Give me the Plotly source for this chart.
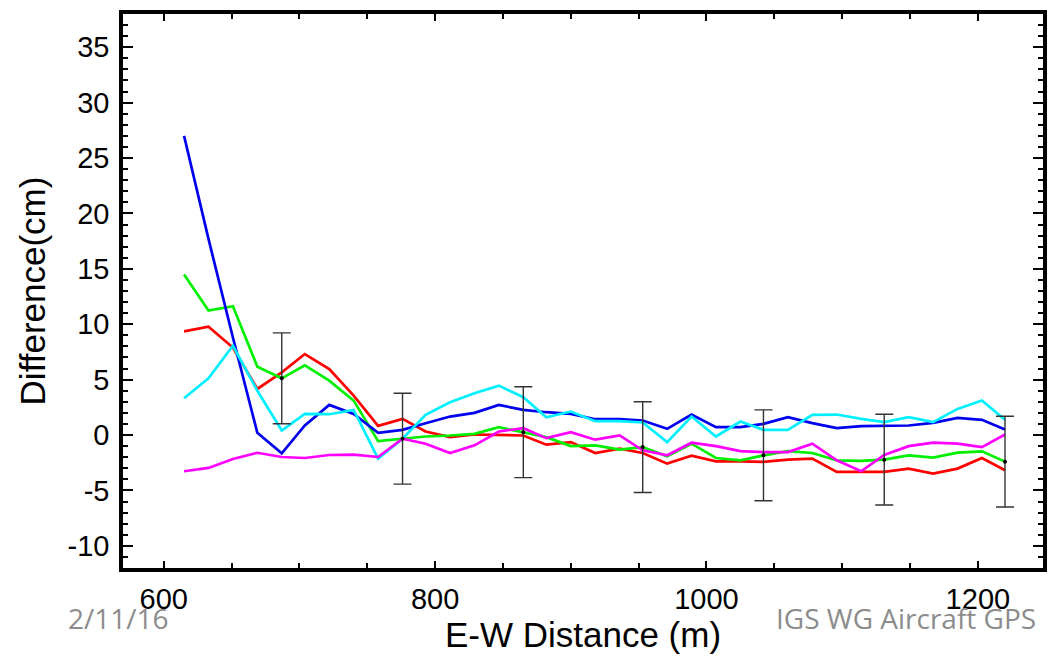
import plotly.graph_objects as go

distance = [615, 633, 651, 669, 687, 704, 722, 740, 758, 776, 793, 811, 829, 847, 865,
            882, 900, 918, 936, 953, 971, 989, 1007, 1025, 1042, 1060, 1078, 1096, 1114,
            1131, 1149, 1167, 1185, 1203, 1220]

red = [9.35, 9.77, 7.9, 4.16, 5.66, 7.31, 5.96, 3.56, 0.83, 1.46, 0.32, -0.19, 0.05, 0.03, -0.04,
       -0.87, -0.64, -1.62, -1.23, -1.62, -2.58, -1.86, -2.37, -2.37, -2.43, -2.22, -2.13, -3.33,
       -3.33, -3.33, -3.03, -3.48, -3.03, -2.07, -3.18]
green = [14.5, 11.23, 11.63, 6.17, 5.12, 6.29, 4.91, 3.11, -0.55, -0.33, -0.13, -0.04, 0.11, 0.71,
         0.26, -0.19, -1.0, -0.93, -1.32, -1.09, -1.92, -0.78, -2.07, -2.28, -1.83, -1.45, -1.62,
         -2.28, -2.34, -2.22, -1.83, -2.04, -1.59, -1.47, -2.4]
blue = [27.0, 17.7, 8.8, 0.2, -1.65, 0.86, 2.72, 1.91, 0.2, 0.47, 1.07, 1.67, 2.0, 2.72, 2.27,
        2.06, 1.91, 1.43, 1.43, 1.31, 0.56, 1.85, 0.71, 0.71, 1.01, 1.61, 1.07, 0.62, 0.8, 0.8,
        0.86, 1.1, 1.55, 1.37, 0.5]
cyan = [3.32, 5.12, 8.06, 4.0, 0.41, 1.91, 1.88, 2.27, -2.13, -0.33, 1.82, 2.96, 3.77, 4.46, 3.41,
        1.61, 2.12, 1.25, 1.25, 1.13, -0.64, 1.67, -0.13, 1.22, 0.47, 0.47, 1.82, 1.85, 1.46, 1.16,
        1.61, 1.16, 2.36, 3.11, 1.37]
magenta = [-3.27, -2.97, -2.16, -1.6, -1.98, -2.07, -1.8, -1.77, -1.98, -0.33, -0.78, -1.62, -0.93,
           0.32, 0.62, -0.28, 0.26, -0.42, -0.04, -1.38, -1.83, -0.69, -1.0, -1.45, -1.54, -1.54,
           -0.78, -2.28, -3.27, -1.8, -1.0, -0.69, -0.78, -1.09, 0.05]

err_x = [687, 776, 865, 953, 1042, 1131, 1220]
err_y = [5.12, -0.33, 0.26, -1.09, -1.83, -2.22, -2.4]
err_size = [4.1, 4.1, 4.1, 4.1, 4.1, 4.1, 4.1]

x_ticks = [600, 800, 1000, 1200]
y_ticks = [-10, -5, 0, 5, 10, 15, 20, 25, 30, 35]

series = [("red", red, "#ff0000"), ("green", green, "#00f000"), ("blue", blue, "#0000ee"),
          ("cyan", cyan, "#00f0ff"), ("magenta", magenta, "#ff00ff")]

fig = go.Figure()
for name, vals, col in series:
    fig.add_trace(go.Scatter(x=distance, y=vals, mode="lines", name=name,
                             line=dict(color=col, width=2.7)))

fig.add_trace(go.Scatter(x=err_x, y=err_y, mode="markers", name="err",
                         marker=dict(color="black", size=4),
                         error_y=dict(type="data", array=err_size, visible=True,
                                      color="#333333", thickness=1.4, width=9)))

font_main = "Liberation Sans, Arial, Helvetica, sans-serif"

fig.update_layout(
    width=1057, height=663,
    margin=dict(l=123, r=10, t=12, b=95),
    paper_bgcolor="white", plot_bgcolor="white",
    showlegend=False,
    font=dict(family=font_main, color="black"),
)

fig.update_xaxes(
    range=[570, 1248], tickvals=x_ticks, ticktext=[str(v) for v in x_ticks],
    ticks="inside", ticklen=7, tickwidth=1.5, tickcolor="black",
    showline=True, linewidth=3.5, linecolor="black", mirror="allticks",
    showgrid=False, zeroline=False,
    tickfont=dict(size=29, family=font_main),
    ticklabelstandoff=2,
    minor=dict(dtick=50, tick0=0, ticks="inside", ticklen=5, tickwidth=1.5, tickcolor="black"),
    title=dict(text="E-W Distance (m)", font=dict(size=35, family=font_main), standoff=6),
)
fig.update_yaxes(
    range=[-12, 38], tickvals=y_ticks, ticktext=[str(v) for v in y_ticks],
    ticks="inside", ticklen=10, tickwidth=1.5, tickcolor="black",
    showline=True, linewidth=3.5, linecolor="black", mirror="allticks",
    showgrid=False, zeroline=False,
    tickfont=dict(size=29, family=font_main),
    ticklabelstandoff=4,
    minor=dict(dtick=1, tick0=0, ticks="inside", ticklen=5, tickwidth=1.5, tickcolor="black"),
    title=dict(text="Difference(cm)", font=dict(size=35, family=font_main), standoff=12),
)

foot_font = dict(family="Open Sans, Lato, sans-serif", size=28, color="#8c8c8c")
fig.add_annotation(text="2/11/16", xref="paper", yref="paper",
                   x=(66 - 123) / 924, y=(568 - 618) / 556,
                   xanchor="left", yanchor="middle", showarrow=False, font=foot_font)
fig.add_annotation(text="IGS WG Aircraft GPS", xref="paper", yref="paper",
                   x=(1042 - 123) / 924, y=(568 - 618) / 556,
                   xanchor="right", yanchor="middle", showarrow=False, font=foot_font)

fig.write_html("out.html")
